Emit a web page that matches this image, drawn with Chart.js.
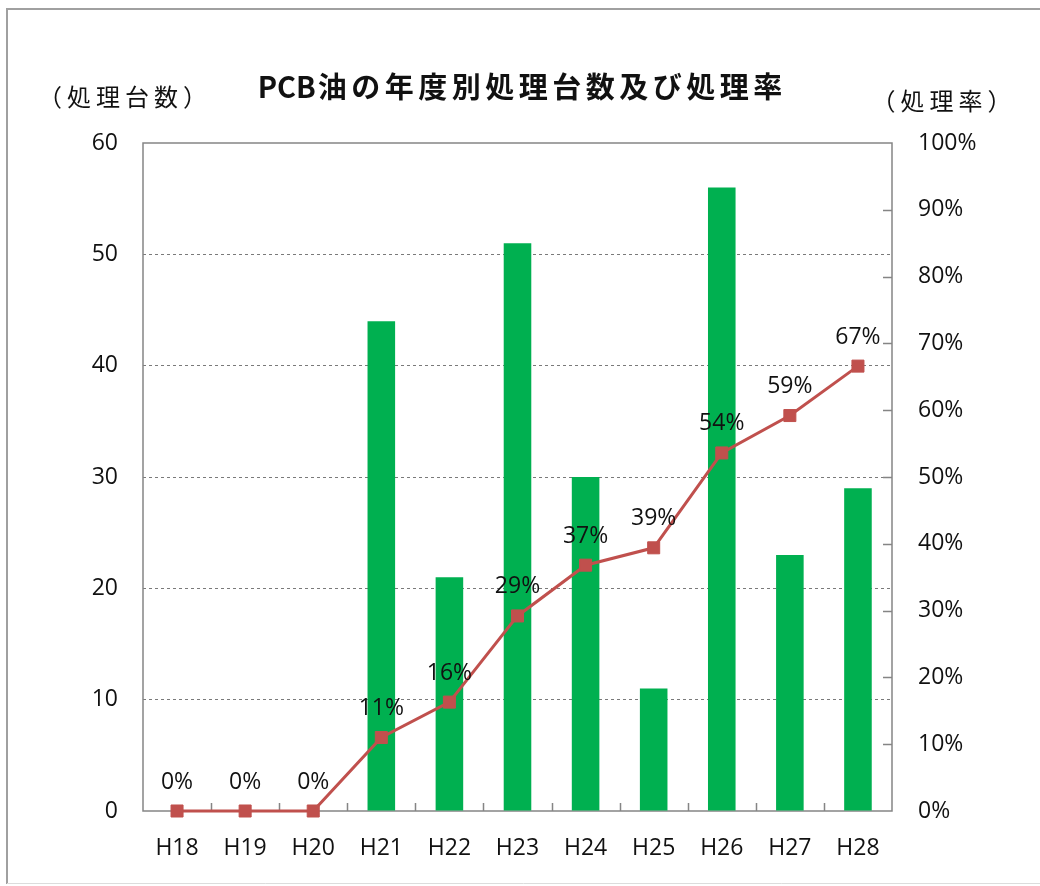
<!DOCTYPE html>
<html><head><meta charset="utf-8">
<script src="https://cdn.jsdelivr.net/npm/chart.js@4.4.0/dist/chart.umd.min.js"></script>
<style>html,body{margin:0;padding:0;background:#fff}canvas{display:block}</style>
</head><body>
<canvas id="c" width="1040" height="886"></canvas>
<script>
const categories = ['H18','H19','H20','H21','H22','H23','H24','H25','H26','H27','H28'];
const units = [0, 0, 0, 44, 21, 51, 30, 11, 56, 23, 29];
const rates = [0, 0, 0, 11.0, 16.3, 29.2, 36.8, 39.4, 53.6, 59.2, 66.6];
const countTicks = [0, 10, 20, 30, 40, 50, 60];
const rateTicks = [0, 10, 20, 30, 40, 50, 60, 70, 80, 90, 100];
const titleLatin = 'PCB';
const titleRest = '油の年度別処理台数及び処理率';
const leftAxisTitle = '（処理台数）';
const rightAxisTitle = '（処理率）';

const FONT = "'Open Sans', 'Noto Sans CJK JP', sans-serif";
const CJK = "'Noto Sans CJK JP', 'Open Sans', sans-serif";
const TXT = '#111';
const FRAME = '#858585';

const decor = {
  id: 'decor',
  beforeDraw(chart) {
    const ctx = chart.ctx;
    ctx.save();
    ctx.fillStyle = '#fff';
    ctx.fillRect(0, 0, chart.width, chart.height);
    ctx.strokeStyle = '#a0a0a0';
    ctx.lineWidth = 2;
    ctx.beginPath();
    ctx.moveTo(7, 884); ctx.lineTo(7, 9); ctx.lineTo(1040, 9);
    ctx.stroke();
    ctx.strokeStyle = '#dcdcdc';
    ctx.lineWidth = 1;
    ctx.beginPath();
    ctx.moveTo(7, 883.5); ctx.lineTo(1040, 883.5);
    ctx.stroke();
    ctx.restore();
  },
  beforeDatasetsDraw(chart) {
    const ctx = chart.ctx;
    const a = chart.chartArea;
    const xs = chart.scales.x, y1 = chart.scales.y1;
    ctx.save();
    ctx.strokeStyle = FRAME;
    ctx.lineWidth = 1.5;
    ctx.strokeRect(a.left, a.top, a.right - a.left, a.bottom - a.top);
    ctx.beginPath();
    for (let i = 0; i < categories.length - 1; i++) {
      const x = Math.round((xs.getPixelForValue(i) + xs.getPixelForValue(i + 1)) / 2) + 0.5;
      ctx.moveTo(x, a.bottom); ctx.lineTo(x, a.bottom - 8);
    }
    for (const v of rateTicks) {
      if (v === 0 || v === 100) continue;
      const y = Math.round(y1.getPixelForValue(v)) + 0.5;
      ctx.moveTo(a.right - 9, y); ctx.lineTo(a.right, y);
    }
    ctx.stroke();
    ctx.restore();
  },
  afterDatasetsDraw(chart) {
    const ctx = chart.ctx;
    const meta = chart.getDatasetMeta(0);
    ctx.save();
    ctx.fillStyle = TXT;
    ctx.font = '23px ' + FONT;
    ctx.textAlign = 'center';
    ctx.textBaseline = 'middle';
    meta.data.forEach((pt, i) => {
      ctx.fillText(Math.round(rates[i]) + '%', pt.x, pt.y - 29);
    });
    ctx.restore();
  },
  afterDraw(chart) {
    const ctx = chart.ctx;
    ctx.save();
    ctx.fillStyle = TXT;
    ctx.textBaseline = 'middle';
    // title: tight Latin part, spaced CJK part, centred as a whole
    ctx.textAlign = 'left';
    ctx.font = 'bold 29px ' + CJK;
    ctx.letterSpacing = '0px';
    const wL = ctx.measureText(titleLatin).width;
    ctx.letterSpacing = '4.5px';
    const wR = ctx.measureText(titleRest).width - 4.5;
    const x0 = 520 - (wL + 2 + wR) / 2;
    ctx.letterSpacing = '0px';
    ctx.fillText(titleLatin, x0, 87);
    ctx.letterSpacing = '4.5px';
    ctx.fillText(titleRest, x0 + wL + 2, 87);
    // axis titles
    ctx.textAlign = 'center';
    ctx.font = '24px ' + CJK;
    ctx.letterSpacing = '5px';
    ctx.fillText(leftAxisTitle, 125, 97);
    ctx.fillText(rightAxisTitle, 944, 101);
    ctx.restore();
  }
};

new Chart(document.getElementById('c'), {
  data: {
    labels: categories,
    datasets: [
      {
        type: 'line',
        label: '処理率',
        data: rates,
        yAxisID: 'y1',
        order: 0,
        borderColor: '#C0504D',
        backgroundColor: '#C0504D',
        borderWidth: 3,
        pointStyle: 'rect',
        pointRadius: 8.5,
        pointBorderWidth: 1,
        pointBackgroundColor: '#C0504D',
        pointBorderColor: '#C0504D',
        tension: 0,
        clip: false
      },
      {
        type: 'bar',
        label: '処理台数',
        data: units,
        yAxisID: 'y',
        order: 1,
        backgroundColor: '#00B050',
        borderWidth: 0,
        barPercentage: 0.405,
        categoryPercentage: 1.0
      }
    ]
  },
  options: {
    responsive: false,
    animation: false,
    events: [],
    layout: { padding: { top: 143, left: 0, right: 0, bottom: 0 } },
    plugins: { legend: { display: false }, title: { display: false }, tooltip: { enabled: false } },
    scales: {
      x: {
        offset: true,
        grid: { display: false, drawTicks: false },
        border: { display: false },
        ticks: { color: TXT, font: { family: FONT, size: 23 }, padding: 24, maxRotation: 0 },
        afterFit(s) { s.height = 75; }
      },
      y: {
        position: 'left',
        min: 0, max: 60,
        afterBuildTicks(s) { s.ticks = countTicks.map(v => ({ value: v })); },
        grid: {
          drawTicks: false,
          color: c => (c.tick && (c.tick.value === 0 || c.tick.value === 60)) ? 'rgba(0,0,0,0)' : '#7a7a7a',
          lineWidth: 1
        },
        border: { display: false, dash: [3, 3] },
        ticks: { color: TXT, font: { family: FONT, size: 23 }, padding: 25 },
        afterFit(s) { s.width = 143; }
      },
      y1: {
        position: 'right',
        min: 0, max: 100,
        afterBuildTicks(s) { s.ticks = rateTicks.map(v => ({ value: v })); },
        grid: { drawOnChartArea: false, drawTicks: false },
        border: { display: false },
        ticks: { color: TXT, font: { family: FONT, size: 23 }, padding: 26, callback: v => v + '%' },
        afterFit(s) { s.width = 148; }
      }
    }
  },
  plugins: [decor]
});
</script>
</body></html>
